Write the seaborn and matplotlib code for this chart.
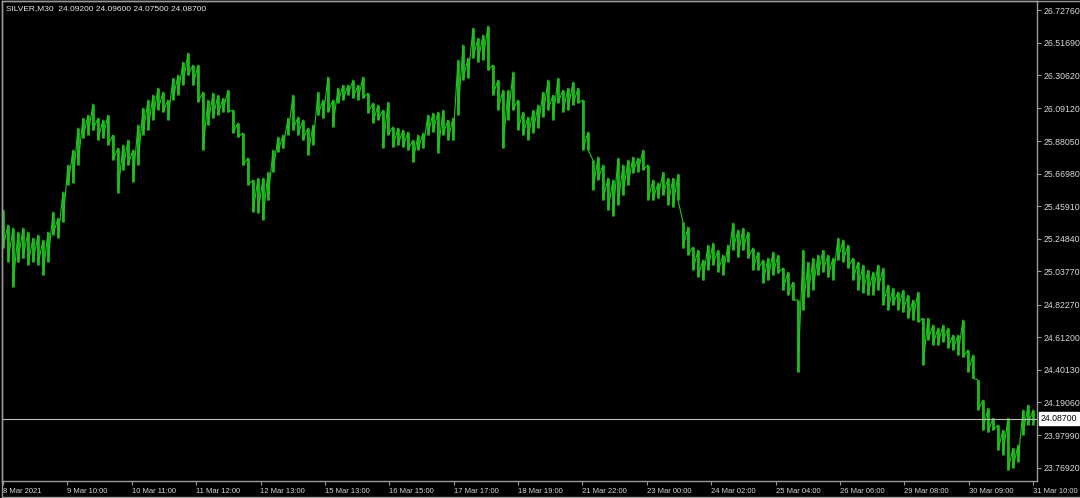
import numpy as np
import pandas as pd
import matplotlib
matplotlib.use("Agg")
import matplotlib.pyplot as plt
import matplotlib.transforms as mtransforms
from matplotlib.lines import Line2D
import seaborn as sns

# ---------------- data ----------------
symbol = "SILVER,M30"
last_bar_ohlc = ["24.09200", "24.09600", "24.07500", "24.08700"]
current_price = 24.08700

highs = [
    25.435, 25.338, 25.318, 25.293, 25.318, 25.293, 25.254, 25.274, 25.241, 25.293,
    25.422, 25.383, 25.551, 25.726, 25.823, 25.965, 26.029, 26.049, 26.120, 26.029,
    26.017, 26.049, 25.920, 25.835, 25.855, 25.887, 25.823, 25.985, 26.094, 26.146,
    26.178, 26.223, 26.197, 26.146, 26.288, 26.308, 26.391, 26.450, 26.372, 26.372,
    26.197, 26.146, 26.191, 26.178, 26.158, 26.210, 26.081, 25.998, 25.933, 25.771,
    25.629, 25.641, 25.641, 25.680, 25.823, 25.907, 25.920, 26.029, 26.178, 26.036,
    26.017, 25.965, 25.985, 26.197, 26.146, 26.295, 26.146, 26.223, 26.243, 26.243,
    26.275, 26.243, 26.295, 26.191, 26.127, 26.114, 26.081, 26.133, 25.972, 25.965,
    25.952, 25.939, 25.887, 25.920, 25.933, 26.049, 26.062, 26.068, 26.081, 26.017,
    26.029, 26.404, 26.502, 26.417, 26.611, 26.546, 26.566, 26.624, 26.372, 26.275,
    26.210, 26.210, 26.327, 26.146, 26.068, 26.036, 26.081, 26.114, 26.197, 26.275,
    26.178, 26.288, 26.210, 26.223, 26.262, 26.223, 26.146, 25.939, 25.758, 25.778,
    25.726, 25.641, 25.629, 25.771, 25.726, 25.758, 25.778, 25.771, 25.823, 25.726,
    25.629, 25.610, 25.680, 25.641, 25.641, 25.667, 25.357, 25.325, 25.196, 25.176,
    25.112, 25.209, 25.222, 25.176, 25.144, 25.209, 25.351, 25.306, 25.318, 25.293,
    25.189, 25.163, 25.112, 25.124, 25.163, 25.144, 25.060, 25.034, 24.969, 24.853,
    25.176, 25.099, 25.124, 25.144, 25.176, 25.144, 25.124, 25.254, 25.241, 25.209,
    25.124, 25.099, 25.080, 25.047, 25.034, 25.080, 25.060, 24.950, 24.930, 24.905,
    24.918, 24.886, 24.853, 24.905, 24.736, 24.736, 24.692, 24.672, 24.692, 24.672,
    24.627, 24.627, 24.724, 24.530, 24.498, 24.336, 24.206, 24.154, 24.090, 24.045,
    24.012, 24.090, 23.896, 23.916, 24.142, 24.174, 24.142,
]

lows = [
    25.189, 25.099, 24.937, 25.099, 25.124, 25.080, 25.099, 25.080, 25.015, 25.099,
    25.274, 25.254, 25.357, 25.597, 25.610, 25.726, 25.900, 25.920, 25.952, 25.887,
    25.900, 25.855, 25.758, 25.545, 25.693, 25.726, 25.616, 25.726, 25.920, 25.952,
    26.017, 26.081, 26.068, 26.017, 26.146, 26.178, 26.243, 26.308, 26.243, 26.133,
    25.823, 25.985, 26.029, 26.049, 26.068, 26.068, 25.933, 25.907, 25.726, 25.597,
    25.422, 25.416, 25.370, 25.499, 25.680, 25.810, 25.835, 25.920, 25.952, 25.920,
    25.887, 25.791, 25.855, 26.049, 26.029, 26.068, 25.972, 26.127, 26.146, 26.178,
    26.158, 26.146, 26.158, 26.062, 25.998, 26.017, 25.835, 25.920, 25.842, 25.855,
    25.842, 25.823, 25.745, 25.823, 25.835, 25.920, 25.939, 25.804, 25.920, 25.887,
    25.887, 26.049, 26.275, 26.288, 26.417, 26.391, 26.404, 26.340, 26.178, 26.081,
    25.835, 26.017, 26.081, 25.952, 25.920, 25.887, 25.933, 25.965, 26.036, 26.081,
    26.017, 26.127, 26.068, 26.081, 26.114, 26.127, 25.823, 25.823, 25.564, 25.629,
    25.499, 25.435, 25.396, 25.467, 25.532, 25.597, 25.674, 25.680, 25.693, 25.499,
    25.499, 25.512, 25.532, 25.467, 25.454, 25.499, 25.189, 25.144, 25.047, 25.002,
    24.982, 25.047, 25.080, 25.034, 25.015, 25.099, 25.176, 25.131, 25.176, 25.124,
    25.047, 25.047, 24.963, 24.982, 25.015, 25.028, 24.918, 24.886, 24.853, 24.387,
    24.788, 24.873, 24.918, 25.015, 25.034, 25.002, 24.982, 25.112, 25.099, 25.060,
    24.982, 24.918, 24.899, 24.886, 24.886, 24.918, 24.821, 24.788, 24.821, 24.788,
    24.775, 24.736, 24.724, 24.711, 24.433, 24.594, 24.562, 24.562, 24.581, 24.542,
    24.530, 24.498, 24.485, 24.387, 24.348, 24.142, 24.012, 23.999, 24.012, 23.883,
    23.851, 23.754, 23.767, 23.806, 23.980, 24.045, 24.045,
]

price_ticks = [26.72760, 26.51690, 26.30620, 26.09120, 25.88050, 25.66980,
               25.45910, 25.24840, 25.03770, 24.82270, 24.61200, 24.40130,
               24.19060, 23.97990, 23.76920]

time_labels = ["8 Mar 2021", "9 Mar 10:00", "10 Mar 11:00", "11 Mar 12:00",
               "12 Mar 13:00", "15 Mar 13:00", "16 Mar 15:00", "17 Mar 17:00",
               "18 Mar 19:00", "21 Mar 22:00", "23 Mar 00:00", "24 Mar 02:00",
               "25 Mar 04:00", "26 Mar 06:00", "29 Mar 08:00", "30 Mar 09:00",
               "31 Mar 10:00"]

# ---------------- style ----------------
BG = "#000000"
GREEN = "#18a818"
GREEN_HI = "#22c422"
FRAME = "#9a9a9a"
TXT = "#d8d8d8"

sns.set_style("dark", {"axes.facecolor": BG, "figure.facecolor": BG,
                       "axes.edgecolor": FRAME, "grid.color": BG,
                       "text.color": TXT, "xtick.color": TXT, "ytick.color": TXT})
plt.rcParams["font.family"] = ["Liberation Sans", "DejaVu Sans"]

W, H = 1080, 498
fig = plt.figure(figsize=(W / 100, H / 100), dpi=100, facecolor=BG)
ax_left, ax_right, ax_top, ax_bottom = 2, 1037, 1, 480.7
ax = fig.add_axes([ax_left / W, (H - ax_bottom) / H,
                   (ax_right - ax_left) / W, (ax_bottom - ax_top) / H])
ax.set_facecolor(BG)

n = len(highs)
bar_idx = np.arange(n)

# vertical high-low bars, one per column
bars = pd.DataFrame({
    "bar": np.repeat(bar_idx, 2),
    "price": np.column_stack([lows, highs]).ravel(),
})
sns.lineplot(data=bars, x="bar", y="price", units="bar", estimator=None,
             sort=False, color=GREEN, linewidth=2.1, ax=ax, legend=False,
             solid_capstyle="butt")

# thin trace running high -> low through the bars (gives the dense texture)
trace = pd.DataFrame({
    "bar": np.repeat(bar_idx, 2),
    "price": np.column_stack([highs, lows]).ravel(),
})
sns.lineplot(data=trace, x="bar", y="price", estimator=None, sort=False,
             color=GREEN_HI, linewidth=0.8, ax=ax, legend=False)

ax.set_xlim(-0.2, n - 0.2)
ax.set_ylim(23.685, 26.786)

# current price line
ax.axhline(current_price, color="#bdbdbd", linewidth=0.8, zorder=3)

# axes cosmetics
for s in ax.spines.values():
    s.set_color(FRAME)
    s.set_linewidth(1.0)
ax.grid(False)
ax.set_xlabel("")
ax.set_ylabel("")

ax.yaxis.tick_right()
ax.set_yticks(price_ticks)
ax.set_yticklabels([f"{v:.5f}" for v in price_ticks])
ax.tick_params(axis="y", direction="out", length=3, width=0.8, color=FRAME,
               pad=1.5, labelsize=6.3, labelcolor=TXT, right=True, left=False)

step = (n - 1) / (len(time_labels) - 1)
ax.set_xticks(np.arange(len(time_labels)) * step)
ax.set_xticklabels(time_labels, ha="left")
ax.tick_params(axis="x", direction="out", length=3, width=0.8, color=FRAME,
               pad=2.5, labelsize=5.5, labelcolor=TXT, bottom=True)

# current price label on the axis
trans = mtransforms.blended_transform_factory(ax.transAxes, ax.transData)
ax.text(1.0035, current_price, f"{current_price:.5f}", transform=trans,
        ha="left", va="center", fontsize=6.3, color="black", clip_on=False,
        bbox=dict(facecolor="white", edgecolor="white", pad=1.2))

# header text
fig.text(6 / W, 1 - 9 / H, symbol + "  " + " ".join(last_bar_ohlc),
         ha="left", va="center", fontsize=6.0, color="#e6e6e6")

# outer window frame
fig.add_artist(Line2D([2 / W, 2 / W], [0, 1 - 1 / H], color=FRAME, lw=1.0,
                      transform=fig.transFigure))
fig.add_artist(Line2D([2 / W, 1], [1 - 1 / H, 1 - 1 / H], color=FRAME, lw=1.0,
                      transform=fig.transFigure))
fig.add_artist(Line2D([2 / W, 1], [1.5 / H, 1.5 / H], color=FRAME, lw=1.0,
                      transform=fig.transFigure))

fig.savefig("out.png", dpi=100, facecolor=BG)
